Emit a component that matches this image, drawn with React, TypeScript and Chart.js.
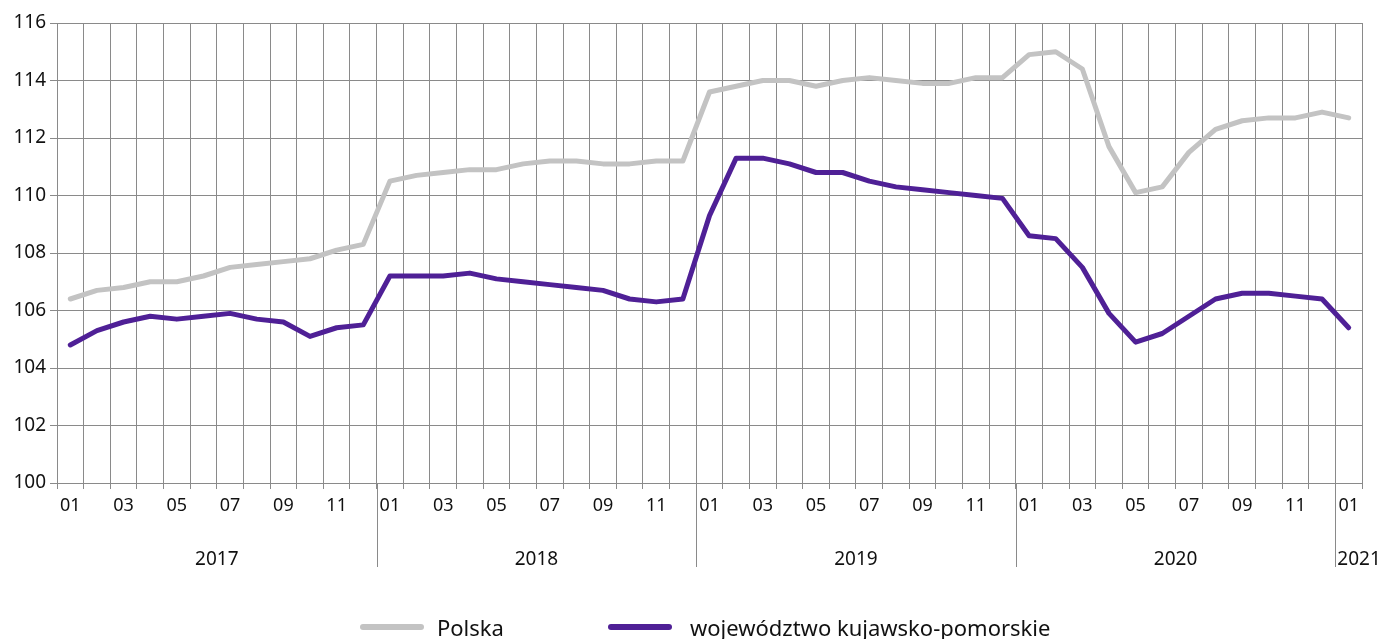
import React, { useEffect, useRef } from "react";
import { Chart, registerables } from "chart.js";

Chart.register(...registerables);

const monthLabels = [
  "01", "02", "03", "04", "05", "06", "07", "08", "09", "10", "11", "12",
  "01", "02", "03", "04", "05", "06", "07", "08", "09", "10", "11", "12",
  "01", "02", "03", "04", "05", "06", "07", "08", "09", "10", "11", "12",
  "01", "02", "03", "04", "05", "06", "07", "08", "09", "10", "11", "12",
  "01",
];

const yearLabels = ["2017", "2018", "2019", "2020", "2021"];

const polska = [
  106.4, 106.7, 106.8, 107.0, 107.0, 107.2, 107.5, 107.6, 107.7, 107.8, 108.1, 108.3,
  110.5, 110.7, 110.8, 110.9, 110.9, 111.1, 111.2, 111.2, 111.1, 111.1, 111.2, 111.2,
  113.6, 113.8, 114.0, 114.0, 113.8, 114.0, 114.1, 114.0, 113.9, 113.9, 114.1, 114.1,
  114.9, 115.0, 114.4, 111.7, 110.1, 110.3, 111.5, 112.3, 112.6, 112.7, 112.7, 112.9,
  112.7,
];

const kujawskoPomorskie = [
  104.8, 105.3, 105.6, 105.8, 105.7, 105.8, 105.9, 105.7, 105.6, 105.1, 105.4, 105.5,
  107.2, 107.2, 107.2, 107.3, 107.1, 107.0, 106.9, 106.8, 106.7, 106.4, 106.3, 106.4,
  109.3, 111.3, 111.3, 111.1, 110.8, 110.8, 110.5, 110.3, 110.2, 110.1, 110.0, 109.9,
  108.6, 108.5, 107.5, 105.9, 104.9, 105.2, 105.8, 106.4, 106.6, 106.6, 106.5, 106.4,
  105.4,
];

const seriesNames = ["Polska", "województwo kujawsko-pomorskie"];
const seriesColors = ["#c3c3c3", "#4f2096"];

const FONT = "'Noto Sans', sans-serif";
const GRID = "#8a8a8a";

const yearPlugin = {
  id: "yearLabels",
  afterDraw(chart: any) {
    const x = chart.scales.x;
    const ctx = chart.ctx;
    const bottom = chart.chartArea.bottom;
    ctx.save();
    ctx.strokeStyle = GRID;
    ctx.lineWidth = 1;
    ctx.fillStyle = "#111";
    ctx.font = `19px ${FONT}`;
    ctx.textBaseline = "middle";
    for (let i = 0; i < yearLabels.length; i++) {
      const startIdx = i * 12;
      const endIdx = Math.min(startIdx + 11, monthLabels.length - 1);
      if (i > 0) {
        const bx = Math.round(x.getPixelForValue(startIdx - 0.5)) + 0.5;
        ctx.beginPath();
        ctx.moveTo(bx, bottom);
        ctx.lineTo(bx, bottom + 84);
        ctx.stroke();
      }
      if (endIdx - startIdx >= 11) {
        const cx = x.getPixelForValue((startIdx + endIdx) / 2);
        ctx.textAlign = "center";
        ctx.fillText(yearLabels[i], cx, bottom + 77);
      } else {
        const lx = x.getPixelForValue(startIdx - 0.5);
        ctx.textAlign = "left";
        ctx.fillText(yearLabels[i], lx + 2, bottom + 77);
      }
    }
    ctx.restore();
  },
};

export default function App() {
  const ref = useRef<HTMLCanvasElement | null>(null);

  useEffect(() => {
    if (!ref.current) return;
    const chart = new Chart(ref.current, {
      type: "line",
      data: {
        labels: monthLabels,
        datasets: [
          {
            label: seriesNames[0],
            data: polska,
            borderColor: seriesColors[0],
            backgroundColor: seriesColors[0],
            borderWidth: 5,
            pointRadius: 0,
            tension: 0,
            borderJoinStyle: "round",
            borderCapStyle: "round",
          },
          {
            label: seriesNames[1],
            data: kujawskoPomorskie,
            borderColor: seriesColors[1],
            backgroundColor: seriesColors[1],
            borderWidth: 5,
            pointRadius: 0,
            tension: 0,
            borderJoinStyle: "round",
            borderCapStyle: "round",
          },
        ],
      },
      options: {
        animation: false,
        responsive: false,
        maintainAspectRatio: false,
        layout: { padding: { top: 23, right: 24, left: 0, bottom: 0 } },
        plugins: {
          legend: { display: false },
          tooltip: { enabled: false },
          title: { display: false },
        },
        scales: {
          x: {
            type: "category",
            offset: true,
            grid: {
              offset: true,
              color: GRID,
              lineWidth: 1,
              tickLength: 6,
              drawTicks: true,
            },
            border: { color: GRID, width: 1 },
            ticks: {
              autoSkip: false,
              maxRotation: 0,
              minRotation: 0,
              padding: 6,
              color: "#111",
              font: { family: FONT, size: 18 },
              callback: (_v: any, i: number) => {
                const m = parseInt(monthLabels[i], 10);
                return m % 2 === 1 ? monthLabels[i] : "";
              },
            },
            afterFit: (scale: any) => {
              scale.height = 156;
            },
          },
          y: {
            min: 100,
            max: 116,
            grid: { color: GRID, lineWidth: 1, tickLength: 7 },
            border: { color: GRID, width: 1 },
            ticks: {
              stepSize: 2,
              padding: 4,
              color: "#111",
              font: { family: FONT, size: 19 },
            },
            afterFit: (scale: any) => {
              scale.width = 57;
            },
          },
        },
      },
      plugins: [yearPlugin],
    });
    return () => chart.destroy();
  }, []);

  return (
    <div style={{ position: "fixed", left: 0, top: 0, width: 1386, height: 639, background: "#fff" }}>
      <canvas ref={ref} width={1386} height={639} style={{ position: "absolute", left: 0, top: 0 }} />
      <div
        style={{
          position: "absolute",
          left: 360,
          top: 611,
          height: 32,
          display: "flex",
          alignItems: "center",
          fontFamily: FONT,
          fontSize: 22,
          color: "#111",
          whiteSpace: "nowrap",
        }}
      >
        <span style={{ display: "inline-block", width: 64, height: 6, borderRadius: 3, background: seriesColors[0] }} />
        <span style={{ marginLeft: 13 }}>{seriesNames[0]}</span>
        <span style={{ display: "inline-block", width: 64, height: 6, borderRadius: 3, background: seriesColors[1], marginLeft: 104 }} />
        <span style={{ marginLeft: 18 }}>{seriesNames[1]}</span>
      </div>
    </div>
  );
}
